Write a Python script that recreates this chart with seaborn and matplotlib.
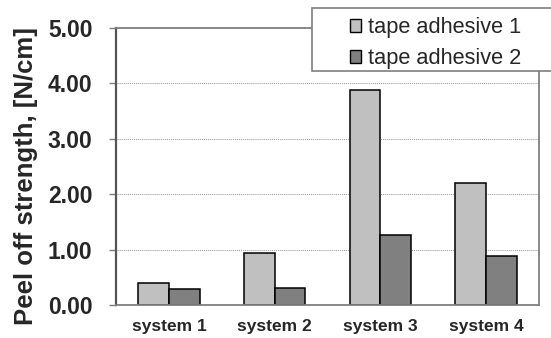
import pandas as pd
import matplotlib
matplotlib.use("Agg")
import matplotlib.pyplot as plt
from matplotlib.patches import Rectangle
import seaborn as sns

# ── Data ───────────────────────────────────────────────────────
systems = ["system 1", "system 2", "system 3", "system 4"]
adhesive_1 = [0.40, 0.93, 3.88, 2.20]
adhesive_2 = [0.28, 0.31, 1.26, 0.88]
series_names = ["tape adhesive 1", "tape adhesive 2"]
y_ticks = [0, 1, 2, 3, 4, 5]

df = pd.DataFrame({
    "system": systems * 2,
    "value": adhesive_1 + adhesive_2,
    "series": [series_names[0]] * 4 + [series_names[1]] * 4,
})

# ── Style ──────────────────────────────────────────────────────
sns.set_theme(style="white")
plt.rcParams["font.family"] = ["Liberation Sans", "DejaVu Sans"]

LIGHT = "#c0c0c0"
DARK = "#808080"
SPINE = "#7f7f7f"

fig = plt.figure(figsize=(5.51, 3.38), dpi=100)
ax = fig.add_axes([116 / 551, 1 - 305 / 338, (539 - 116) / 551, (305 - 28) / 338])

sns.barplot(data=df, x="system", y="value", hue="series", order=systems,
            hue_order=series_names, palette=[LIGHT, DARK], width=0.58,
            edgecolor="black", linewidth=1.1, saturation=1, ax=ax, legend=False)

ax.set_ylim(0, 5)
ax.set_xlim(-0.5, 3.5)
ax.set_yticks(y_ticks)
ax.set_yticklabels([f"{t:.2f}" for t in y_ticks], fontsize=16.5, fontweight="bold")
ax.set_xticks(range(len(systems)))
ax.set_xticklabels(systems, fontsize=12.5, fontweight="bold")
ax.set_xticks([-0.5, 0.5, 1.5, 2.5, 3.5], minor=True)
ax.tick_params(axis="x", which="major", length=0, pad=10)
ax.tick_params(axis="x", which="minor", length=5, width=1, color=SPINE, direction="out")
ax.tick_params(axis="y", length=5, width=1, color=SPINE, direction="out", pad=12, left=True)
ax.set_xlabel("")
ax.set_ylabel("Peel off strength, [N/cm]", fontsize=18.5, fontweight="bold")
ax.yaxis.set_label_coords(-0.184, 0.466)

for y in y_ticks[1:-1]:
    ax.axhline(y, color="#999999", linestyle=(0, (1, 1)), linewidth=0.7, zorder=0)

for side in ["left", "bottom", "top", "right"]:
    ax.spines[side].set_visible(True)
    ax.spines[side].set_color(SPINE)
    ax.spines[side].set_linewidth(1.3)
ax.spines["left"].set_color("#555555")
ax.spines["left"].set_linewidth(1.6)

# legend box (extends off the right edge like the original)
fig.patches.append(Rectangle((312 / 551, 1 - 71 / 338), 260 / 551, 63 / 338,
                             transform=fig.transFigure, facecolor="white",
                             edgecolor=SPINE, linewidth=1.2, zorder=3))
handles = [Rectangle((0, 0), 1, 1, facecolor=c, edgecolor="black", linewidth=1)
           for c in [LIGHT, DARK]]
leg = fig.legend(handles, series_names, loc="upper left",
                 bbox_to_anchor=(333 / 551, 1.0), frameon=False,
                 fontsize=15.7, handlelength=0.5, handleheight=0.5,
                 handletextpad=0.3, labelspacing=0.45, borderpad=0.3)
leg.set_zorder(4)

fig.savefig("out.png", dpi=100)
